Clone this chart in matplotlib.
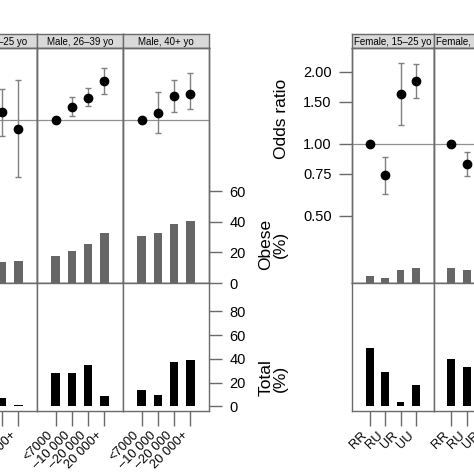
import matplotlib
matplotlib.use('Agg')
import matplotlib.pyplot as plt
from matplotlib.ticker import NullLocator, FixedLocator

plt.rcParams['font.family'] = ['Liberation Sans', 'DejaVu Sans']

W = H = 474
DPI = 100

income_labels = ['<7000', '–10 000', '–20 000', '20 000+']
urban_labels = ['RR', 'RU', 'UR', 'UU']

male_strips = ['Male, 15–25 yo', 'Male, 26–39 yo', 'Male, 40+ yo']
female_strips = ['Female, 15–25 yo', 'Female, 26–39 yo', 'Female, 40+ yo']

# Odds ratios with confidence limits (first category = reference)
male_or = [[1.00, 1.05, 1.08, 0.92], [1.00, 1.13, 1.24, 1.45], [1.00, 1.07, 1.26, 1.29]]
male_or_lo = [[1.00, 0.85, 0.86, 0.58], [1.00, 1.04, 1.14, 1.29], [1.00, 0.885, 1.08, 1.11]]
male_or_hi = [[1.00, 1.30, 1.35, 1.47], [1.00, 1.25, 1.36, 1.65], [1.00, 1.31, 1.47, 1.57]]
male_obese = [[10.0, 12.0, 13.5, 14.2], [17.7, 20.8, 25.8, 32.8], [30.6, 33.0, 38.5, 40.7]]
male_total = [[20.0, 15.0, 7.3, 1.1], [28.3, 27.7, 34.5, 9.0], [13.3, 9.6, 37.0, 39.0]]

female_or = [[1.00, 0.74, 1.62, 1.83], [1.00, 0.825, 1.20, 1.30], [1.00, 0.90, 1.10, 1.20]]
female_or_lo = [[1.00, 0.62, 1.20, 1.56], [1.00, 0.735, 0.95, 1.05], [1.00, 0.75, 0.90, 1.00]]
female_or_hi = [[1.00, 0.885, 2.19, 2.17], [1.00, 0.926, 1.50, 1.60], [1.00, 1.08, 1.35, 1.45]]
female_obese = [[4.9, 3.6, 8.5, 9.9], [9.6, 8.2, 12.0, 14.0], [15.0, 14.0, 18.0, 20.0]]
female_total = [[49.0, 29.2, 3.4, 17.9], [40.2, 33.2, 8.0, 18.0], [35.0, 30.0, 10.0, 25.0]]

or_ticks = [0.50, 0.75, 1.00, 1.50, 2.00]
obese_ticks = [0, 20, 40, 60]
total_ticks = [0, 20, 40, 60, 80]

EDGE = '#6a6a6a'
STRIP = '#d9d9d9'
ERR = '#808080'
OBESE_C = '#666666'
TOTAL_C = '#000000'

fig = plt.figure(figsize=(W / DPI, H / DPI), dpi=DPI)


def ax_at(x0, y0, x1, y1, **kw):
    return fig.add_axes([x0 / W, 1 - y1 / H, (x1 - x0) / W, (y1 - y0) / H], **kw)


def style(ax):
    for s in ax.spines.values():
        s.set_color(EDGE)
        s.set_linewidth(1.0)
    ax.tick_params(which='both', left=False, right=False, top=False, bottom=False,
                   labelleft=False, labelright=False, labelbottom=False, labeltop=False,
                   color=EDGE)


STRIP_TOP, STRIP_BOT = 34, 48
UP_BOT = 283
LOW_BOT = 411
XPAD = 1.14
xs = [1, 2, 3, 4]


def draw_group(x_start, pw, strips, ors, los, his, obese, total, xlabels, or_lim,
               left_or_axis, right_pct_axis):
    n = len(strips)
    for i in range(n):
        x0 = x_start + pw * i
        x1 = x0 + pw
        # strip
        sa = ax_at(x0, STRIP_TOP, x1, STRIP_BOT)
        sa.set_facecolor(STRIP)
        style(sa)
        sa.set_xticks([]); sa.set_yticks([])
        sa.text(0.5, 0.45, strips[i], ha='center', va='center', fontsize=7.0,
                transform=sa.transAxes)
        # upper: odds ratios
        ua = ax_at(x0, STRIP_BOT, x1, UP_BOT)
        style(ua)
        ua.set_yscale('log')
        ua.set_ylim(*or_lim)
        ua.set_xlim(1 - XPAD, 4 + XPAD)
        ua.yaxis.set_minor_locator(NullLocator())
        ua.set_xticks([])
        ua.axhline(1.0, color='#909090', lw=0.9, zorder=1)
        for x, v, lo, hi in zip(xs, ors[i], los[i], his[i]):
            if hi > lo:
                ua.errorbar([x], [v], yerr=[[v - lo], [hi - v]], fmt='none',
                            ecolor=ERR, elinewidth=1.0, capsize=2.2, capthick=1.0, zorder=2)
        ua.plot(xs, ors[i], 'o', color='black', markersize=6, zorder=3, linestyle='none')
        if left_or_axis and i == 0:
            ua.yaxis.set_major_locator(FixedLocator(or_ticks))
            ua.set_yticklabels(['%.2f' % t for t in or_ticks])
            ua.tick_params(axis='y', which='major', left=True, labelleft=True, length=9.5,
                           width=1.0, pad=5, labelsize=10.5, color=EDGE)
        else:
            ua.set_yticks([])
        # obese bars in the same panel
        ob = ua.twinx()
        style(ob)
        ob.set_yscale('linear')
        ob.set_ylim(0, 154)
        ob.set_xlim(1 - XPAD, 4 + XPAD)
        ob.bar(xs, obese[i], width=0.5, color=OBESE_C, zorder=2)
        if right_pct_axis and i == n - 1:
            ob.set_yticks(obese_ticks)
            ob.set_yticklabels([str(t) for t in obese_ticks])
            ob.tick_params(axis='y', right=True, labelright=True, length=9,
                           width=1.0, pad=5.5, labelsize=10.5, color=EDGE)
        else:
            ob.set_yticks([])
        # lower: total bars
        la = ax_at(x0, UP_BOT, x1, LOW_BOT)
        style(la)
        la.set_ylim(-4, 104)
        la.set_xlim(1 - XPAD, 4 + XPAD)
        la.bar(xs, total[i], width=0.5, color=TOTAL_C)
        la.set_xticks(xs)
        la.set_xticklabels(xlabels, rotation=45, ha='right', va='top', fontsize=9.3)
        la.tick_params(axis='x', bottom=True, labelbottom=True, length=10.5, width=1.0,
                       pad=2.5, color=EDGE)
        if right_pct_axis and i == n - 1:
            la.yaxis.tick_right()
            la.set_yticks(total_ticks)
            la.set_yticklabels([str(t) for t in total_ticks])
            la.tick_params(axis='y', right=True, labelright=True, left=False, labelleft=False,
                           length=9, width=1.0, pad=5.5, labelsize=10.5, color=EDGE)
        else:
            la.set_yticks([])


draw_group(-49, 86, male_strips, male_or, male_or_lo, male_or_hi, male_obese, male_total,
           income_labels, (0.208, 2.0), True, True)
draw_group(352, 81.7, female_strips, female_or, female_or_lo, female_or_hi, female_obese,
           female_total, urban_labels, (0.262, 2.52), True, True)

fig.text(282 / W, 1 - 119 / H, 'Odds ratio', rotation=90, ha='center', va='center',
         fontsize=12.5)
fig.text(273 / W, 1 - 244 / H, 'Obese\n(%)', rotation=90, ha='center', va='center',
         fontsize=12.5, linespacing=0.95, multialignment='center')
fig.text(273 / W, 1 - 378 / H, 'Total\n(%)', rotation=90, ha='center', va='center',
         fontsize=12.5, linespacing=0.95, multialignment='center')

fig.savefig('out.png', dpi=DPI)
